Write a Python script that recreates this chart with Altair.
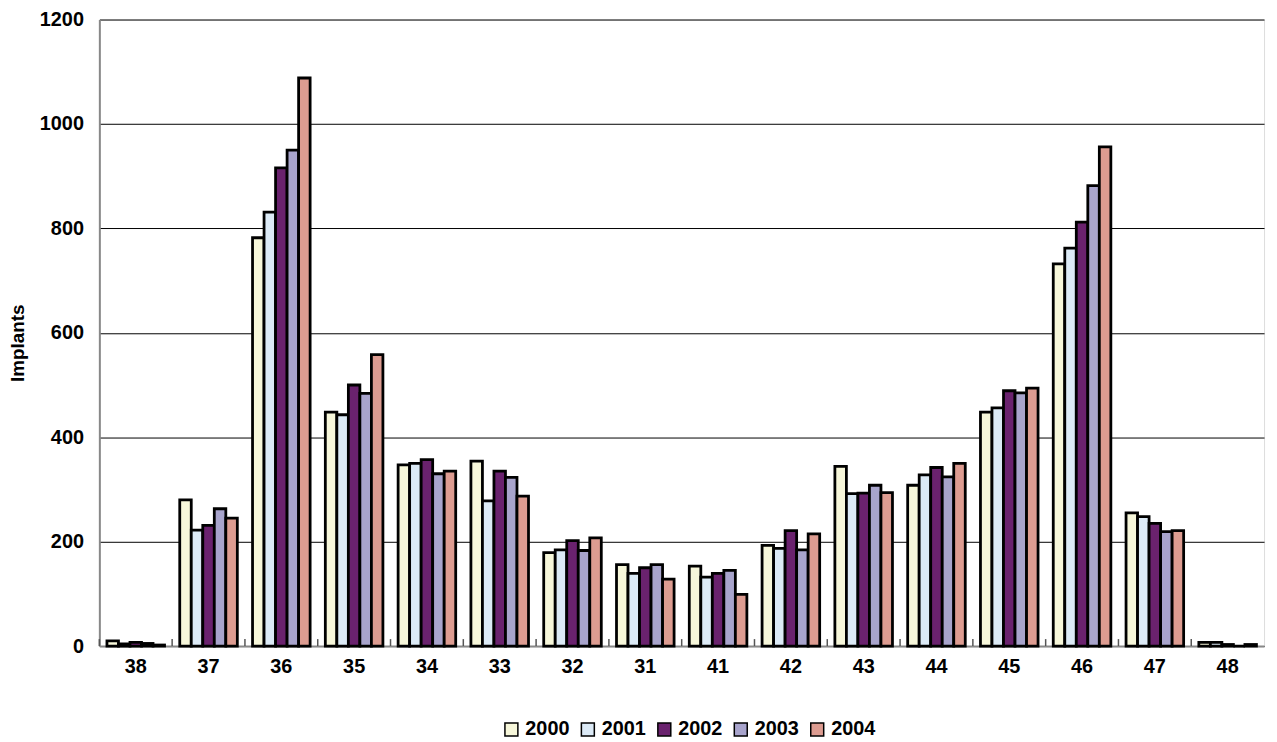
import altair as alt
import pandas as pd

categories = ["38", "37", "36", "35", "34", "33", "32", "31", "41", "42", "43", "44", "45", "46", "47", "48"]
years = ["2000", "2001", "2002", "2003", "2004"]
v2000 = [10, 280, 782, 448, 347, 354, 179, 156, 153, 193, 344, 308, 448, 732, 255, 7]
v2001 = [4, 222, 831, 443, 350, 278, 184, 139, 132, 187, 292, 328, 456, 762, 248, 7]
v2002 = [7, 231, 916, 500, 357, 335, 202, 150, 139, 221, 293, 342, 489, 812, 235, 3]
v2003 = [5, 263, 950, 484, 330, 323, 183, 156, 145, 184, 308, 324, 485, 882, 219, 0]
v2004 = [2, 245, 1088, 558, 335, 287, 207, 128, 99, 215, 294, 350, 494, 956, 221, 3]
colors = ["#f7f7da", "#dceaf6", "#6a226e", "#a8a4cc", "#dd9c91"]

series = [v2000, v2001, v2002, v2003, v2004]
rows = []
for y, vals in zip(years, series):
    for c, v in zip(categories, vals):
        rows.append({"tooth": c, "year": y, "implants": v})
df = pd.DataFrame(rows)
ticks_df = pd.DataFrame({"tooth": categories})

W, H = 1173, 631
FONT = "Liberation Sans"

xscale = alt.Scale(domain=categories, paddingInner=0, paddingOuter=0)

bars = alt.Chart(df).mark_bar(stroke="black", strokeWidth=2.8).encode(
    x=alt.X("tooth:N", sort=categories, scale=xscale,
            axis=alt.Axis(title=None, labelAngle=0, ticks=False, labelPadding=11,
                          labelFontSize=20, labelFontWeight="bold", labelColor="black",
                          labelFont=FONT, domainColor="#888888", domainWidth=2)),
    xOffset=alt.XOffset("year:N", scale=alt.Scale(paddingOuter=0.66, paddingInner=0)),
    y=alt.Y("implants:Q", scale=alt.Scale(domain=[0, 1200], nice=False),
            axis=alt.Axis(title="Implants", values=[0, 200, 400, 600, 800, 1000, 1200],
                          format="d", ticks=False, labelPadding=16, labelFontSize=20,
                          labelFontWeight="bold", labelColor="black", labelFont=FONT,
                          titleFont=FONT, titleFontSize=19, titleFontWeight="bold",
                          titleColor="black", titlePadding=12, titleY=H / 2 + 10,
                          grid=True, gridColor="black", gridWidth=1,
                          domainColor="#888888", domainWidth=2)),
    color=alt.Color("year:N", scale=alt.Scale(domain=years, range=colors),
                    legend=alt.Legend(title=None, orient="none", direction="horizontal",
                                      legendX=405, legendY=705, symbolType="square",
                                      symbolSize=170, symbolStrokeColor="black",
                                      symbolStrokeWidth=1.5, labelFontSize=20,
                                      labelFontWeight="bold", labelFont=FONT,
                                      labelColor="black", columnPadding=8, labelOffset=4)),
)

tick_rules = alt.Chart(ticks_df).mark_rule(color="#555555", strokeWidth=1.5).encode(
    x=alt.X("tooth:N", sort=categories, scale=xscale, bandPosition=0),
    y=alt.value(H - 7),
    y2=alt.value(H),
)

chart = alt.layer(bars, tick_rules).properties(
    width=W, height=H,
    autosize=alt.AutoSizeParams(type="none"),
    padding={"left": 92, "top": 9, "right": 5, "bottom": 90},
).configure_view(stroke="#888888", strokeWidth=2).configure(font=FONT)

chart.save("out.html", embed_options={"renderer": "svg", "actions": False})
